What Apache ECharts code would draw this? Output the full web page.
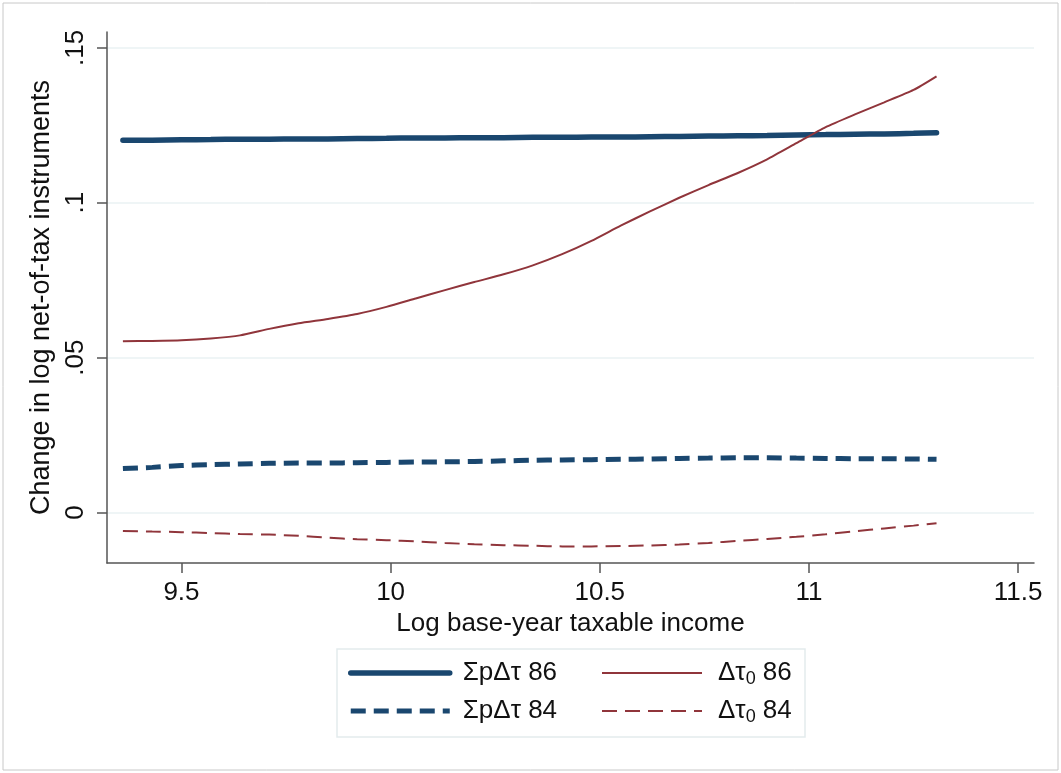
<!DOCTYPE html>
<html>
<head>
<meta charset="utf-8">
<script src="https://cdn.jsdelivr.net/npm/echarts@6/dist/echarts.min.js"></script>
<style>
html,body{margin:0;padding:0;background:#fff;}
#c{width:1061px;height:773px;}
</style>
</head>
<body>
<div id="c"></div>
<script>
// ---- data ----
const xValues = [9.36, 9.43, 9.50, 9.57, 9.64, 9.71, 9.78, 9.85, 9.92, 9.99, 10.06, 10.13, 10.20, 10.27, 10.34, 10.41, 10.48, 10.55, 10.62, 10.69, 10.76, 10.83, 10.90, 10.97, 11.04, 11.11, 11.18, 11.25, 11.305];
const sumPdTau86 = [0.1202, 0.1202, 0.1203, 0.1204, 0.1205, 0.1205, 0.1206, 0.1206, 0.1207, 0.1208, 0.1209, 0.1209, 0.1210, 0.1210, 0.1211, 0.1211, 0.1212, 0.1212, 0.1213, 0.1214, 0.1215, 0.1216, 0.1217, 0.1219, 0.1220, 0.1221, 0.1222, 0.1224, 0.1226];
const sumPdTau84 = [0.0142, 0.0146, 0.0152, 0.0155, 0.0157, 0.0159, 0.0160, 0.0160, 0.0161, 0.0162, 0.0163, 0.0164, 0.0165, 0.0167, 0.0169, 0.0170, 0.0171, 0.0172, 0.0173, 0.0175, 0.0176, 0.0177, 0.0177, 0.0176, 0.0175, 0.0174, 0.0174, 0.0173, 0.0172];
const dTau0_86 = [0.0553, 0.0554, 0.0556, 0.0562, 0.0572, 0.0593, 0.0611, 0.0625, 0.0641, 0.0664, 0.0691, 0.0718, 0.0744, 0.0769, 0.0798, 0.0834, 0.0877, 0.0926, 0.0972, 0.1016, 0.1057, 0.1096, 0.1140, 0.1192, 0.1244, 0.1285, 0.1324, 0.1364, 0.1408];
const dTau0_84 = [-0.0059, -0.0061, -0.0063, -0.0066, -0.0069, -0.0071, -0.0075, -0.0081, -0.0086, -0.0089, -0.0093, -0.0098, -0.0102, -0.0105, -0.0107, -0.0109, -0.0109, -0.0108, -0.0106, -0.0103, -0.0098, -0.0091, -0.0085, -0.0078, -0.0070, -0.0060, -0.0051, -0.0042, -0.0034];
const seriesNames = ['ΣpΔτ 86', 'ΣpΔτ 84', 'Δτ0 86', 'Δτ0 84'];
const xTicks = [9.5, 10, 10.5, 11, 11.5];
const xTickLabels = ['9.5', '10', '10.5', '11', '11.5'];
const yTicks = [0, 0.05, 0.1, 0.15];
const yTickLabels = ['0', '.05', '.1', '.15'];
const xTitle = 'Log base-year taxable income';
const yTitle = 'Change in log net-of-tax instruments';

// ---- chart ----
const BLUE = '#1a476f', RED = '#90353b';
const pairs = ys => xValues.map((x, i) => [x, ys[i]]);
const FONT = 'Liberation Sans, Arial, sans-serif';
const styles = [
  {color: BLUE, width: 5.5, type: 'solid', cap: 'round'},
  {color: BLUE, width: 5, type: [15, 8]},
  {color: RED, width: 2, type: 'solid'},
  {color: RED, width: 2, type: [15, 8]}
];
const legendItem = i => ({name: seriesNames[i], lineStyle: {color: styles[i].color, width: styles[i].width, type: styles[i].type}, itemStyle: {opacity: 0}});

const chart = echarts.init(document.getElementById('c'), null, {renderer: 'canvas'});
const option = {
  animation: false,
  backgroundColor: '#fff',
  grid: {left: 107, right: 27, top: 32, bottom: 210, containLabel: false},
  xAxis: {
    type: 'value', min: 9.322, max: 11.538,
    name: xTitle, nameLocation: 'middle', nameGap: 46,
    nameTextStyle: {fontFamily: FONT, fontSize: 26, color: '#111'},
    axisLine: {show: true, onZero: false, lineStyle: {color: '#555', width: 1.5}},
    axisTick: {show: true, length: 10, customValues: xTicks, lineStyle: {color: '#555', width: 1.5}},
    axisLabel: {customValues: xTicks, margin: 17, fontFamily: FONT, fontSize: 26, color: '#111',
      formatter: v => xTickLabels[xTicks.indexOf(v)] ?? ''},
    splitLine: {show: false}
  },
  yAxis: {
    type: 'value', min: -0.01626, max: 0.1551,
    name: yTitle, nameLocation: 'middle', nameGap: 46, nameRotate: 90,
    nameTextStyle: {fontFamily: FONT, fontSize: 27, color: '#111'},
    axisLine: {show: true, onZero: false, lineStyle: {color: '#555', width: 1.5}},
    axisTick: {show: true, length: 10, customValues: yTicks, lineStyle: {color: '#555', width: 1.5}},
    axisLabel: {customValues: yTicks, rotate: 90, margin: 18, fontFamily: FONT, fontSize: 26, color: '#111',
      formatter: v => yTickLabels[yTicks.indexOf(v)] ?? ''},
    splitLine: {show: true, lineStyle: {color: '#eaf2f3', width: 1.5}}
  },
  legend: [
    {
      orient: 'vertical', left: 348, top: 658, padding: 0, itemGap: 8,
      itemWidth: 99, itemHeight: 2,
      data: [legendItem(0), legendItem(1)],
      textStyle: {fontFamily: FONT, fontSize: 26, color: '#111', lineHeight: 30, padding: [0, 0, 0, 8]}
    },
    {
      orient: 'vertical', left: 601, top: 658, padding: 0, itemGap: 8,
      itemWidth: 100, itemHeight: 2,
      data: [legendItem(2), legendItem(3)],
      formatter: n => '{a|Δτ}{s|0}{a| ' + n.split(' ')[1] + '}',
      textStyle: {fontFamily: FONT, fontSize: 26, color: '#111', lineHeight: 30, padding: [0, 0, 0, 11],
        rich: {
          a: {fontFamily: FONT, fontSize: 26, color: '#111', lineHeight: 30},
          s: {fontFamily: FONT, fontSize: 18, color: '#111', lineHeight: 30, verticalAlign: 'bottom', padding: [8, 0, 0, 0]}
        }}
    }
  ],
  graphic: [
    {type: 'rect', z: -10, shape: {x: 3, y: 3, width: 1055, height: 767}, style: {fill: 'none', stroke: '#c8c8c8', lineWidth: 1}},
    {type: 'rect', z: -5, shape: {x: 337, y: 649, width: 468, height: 88}, style: {fill: '#fff', stroke: '#e3ebed', lineWidth: 1.5}}
  ],
  series: [sumPdTau86, sumPdTau84, dTau0_86, dTau0_84].map((ys, i) => ({
    name: seriesNames[i], type: 'line', data: pairs(ys), symbol: 'none', smooth: 0.2, z: i < 2 ? 3 : 4,
    lineStyle: styles[i], itemStyle: {color: styles[i].color}
  }))
};
chart.setOption(option);
</script>
</body>
</html>
